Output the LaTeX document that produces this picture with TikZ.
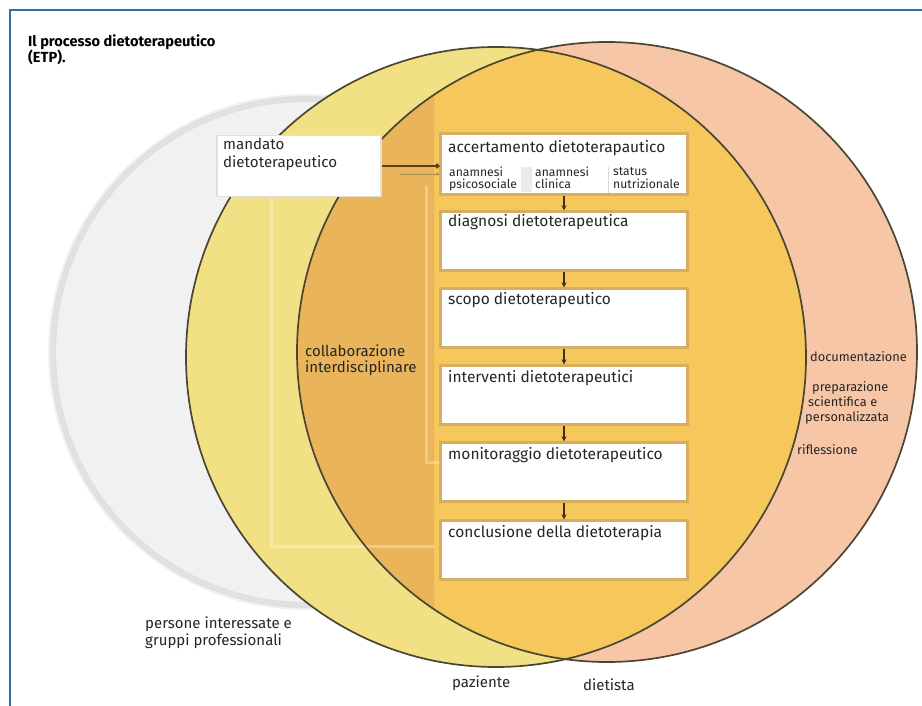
\documentclass[tikz,border=0pt]{standalone}
\usepackage{fontspec}
\setmainfont{Fira Sans}
\usetikzlibrary{arrows.meta}

\definecolor{frameblue}{HTML}{2F6DA6}
\definecolor{ink}{HTML}{262626}
\definecolor{grayfill}{HTML}{F1F1F1}
\definecolor{grayring}{HTML}{E0E0E0}
\definecolor{yellowfill}{HTML}{F2E084}
\definecolor{pinkfill}{HTML}{F6C6A7}
\definecolor{lenslight}{HTML}{F6C75B}
\definecolor{lensdark}{HTML}{EAB45B}
\definecolor{rimdark}{HTML}{4A4632}
\definecolor{boxrim}{HTML}{D6AE62}
\definecolor{arrowdark}{HTML}{3E2E17}
\definecolor{linkbrown}{HTML}{5A3E1A}

\tikzset{
  outline/.style={draw=rimdark, line width=1.7pt},
  stage/.style={draw=boxrim, line width=2.4pt, fill=white,
    minimum width=247pt, minimum height=59pt, inner sep=0pt},
  stagelabel/.style={anchor=base west, inner sep=0pt, text=ink,
    font=\fontsize{15.5}{17}\selectfont},
  mandlabel/.style={anchor=base west, inner sep=0pt, text=ink,
    font=\fontsize{15.1}{17}\selectfont},
  sublabel/.style={anchor=base west, inner sep=0pt, text=ink,
    font=\fontsize{12.2}{13}\selectfont},
  caption/.style={anchor=base west, inner sep=0pt, text=ink,
    font=\fontsize{15}{17}\selectfont},
  sidelabel/.style={anchor=base west, inner sep=0pt, text=ink,
    font=\fontsize{12.8}{14}\selectfont},
  titlelabel/.style={anchor=base west, inner sep=0pt, text=black,
    font=\fontsize{14.6}{16}\selectfont\bfseries},
  flow/.style={draw=arrowdark, line width=1.4pt, -{Stealth[length=5pt,width=5pt]}},
}

\begin{document}
\begin{tikzpicture}[x=1pt,y=-1pt]
\useasboundingbox (0,0) rectangle (922,706);
\fill[white] (0,0) rectangle (922,706);

% page frame
\draw[frameblue, line width=1.6pt] (10,706) -- (10,10) -- (922,10);

% circle centres
\coordinate (cgray) at (306,352);
\coordinate (cpat) at (496,357);
\coordinate (cdiet) at (607,352);

% stakeholders circle with a soft rim
\fill[grayfill] (cgray) circle[radius=258pt];
\draw[grayring, line width=6pt] (cgray) circle[radius=253pt];
\draw[gray!22, line width=1.5pt] (cgray) circle[radius=253pt];

% patient and dietitian circles
\fill[yellowfill] (cpat) circle[radius=310pt];
\fill[pinkfill] (cdiet) circle[radius=310pt];
\begin{scope}
  \clip (cpat) circle[radius=310pt];
  \fill[lenslight] (cdiet) circle[radius=310pt];
  \clip (0,0) rectangle (434,706);
  \fill[lensdark] (cdiet) circle[radius=310pt];
\end{scope}

% faint background frame
\coordinate (g1) at (271,198);
\coordinate (g2) at (271,546);
\coordinate (g3) at (434,546);
\coordinate (g4) at (426,186);
\coordinate (g5) at (426,462);
\coordinate (g6) at (440,462);
\draw[draw=white, line width=3pt, opacity=0.3] (g1) -- (g2) -- (g3);
\draw[draw=white, line width=3pt, opacity=0.3] (g4) -- (g5) -- (g6);

% circle outlines
\draw[outline] (cpat) circle[radius=310pt];
\draw[outline] (cdiet) circle[radius=310pt];

% process stages
\node[stage, minimum height=61pt] (accert) at (564,164) {};
\node[stage] (diag) at (564,241) {};
\node[stage] (scopo) at (564,318) {};
\node[stage] (interv) at (564,395) {};
\node[stage] (monit) at (564,472) {};
\node[stage] (concl) at (564,550) {};

% dividers inside the assessment box
\fill[gray!16] (521,167) rectangle (532,192);
\draw[gray!30, line width=0.8pt] (608,167) -- (608,193);

\node[stagelabel] (taccert) at (448,153) {accertamento dietoterapautico};
\node[sublabel] (ta1) at (449,177) {anamnesi};
\node[sublabel] (ta2) at (449,189) {psicosociale};
\node[sublabel] (tb1) at (535,177) {anamnesi};
\node[sublabel] (tb2) at (535,189) {clinica};
\node[sublabel] (tc1) at (613,176) {status};
\node[sublabel] (tc2) at (613,189) {nutrizionale};
\node[stagelabel] (tdiag) at (448,227) {diagnosi dietoterapeutica};
\node[stagelabel] (tscopo) at (448,305) {scopo dietoterapeutico};
\node[stagelabel] (tinterv) at (448,382) {interventi dietoterapeutici};
\node[stagelabel] (tmonit) at (448,459) {monitoraggio dietoterapeutico};
\node[stagelabel] (tconcl) at (448,537) {conclusione della dietoterapia};

\draw[flow] (accert.south) -- (diag.north);
\draw[flow] (diag.south) -- (scopo.north);
\draw[flow] (scopo.south) -- (interv.north);
\draw[flow] (interv.south) -- (monit.north);
\draw[flow] (monit.south) -- (concl.north);

% mandate box and its link to the assessment
\node[draw=gray!25, line width=1.5pt, fill=white, minimum width=164pt,
  minimum height=61pt, inner sep=0pt] (mandato) at (299,166) {};
\node[mandlabel] (tmand1) at (223,150) {mandato};
\node[mandlabel] (tmand2) at (223,168) {dietoterapeutico};
\draw[linkbrown, line width=2.2pt, -{Circle[length=4.5pt]}]
  (mandato.east) -- (mandato.east -| accert.west);
\coordinate (thinstart) at (400,174);
\draw[boxrim!80!black, line width=0.7pt, -{Circle[length=3pt]}]
  (thinstart) -- (thinstart -| accert.west);

% captions
\node[titlelabel] (title1) at (28,47) {Il processo dietoterapeutico};
\node[titlelabel] (title2) at (28,63) {(ETP).};
\node[caption] (collab1) at (305,356) {collaborazione};
\node[caption] (collab2) at (305,372) {interdisciplinare};
\node[caption] (pers1) at (145,628) {persone interessate e};
\node[caption] (pers2) at (145,645) {gruppi professionali};
\node[caption] (paz) at (452,687) {paziente};
\node[caption] (diet) at (583,690) {dietista};
\node[sidelabel] (doc) at (810,361) {documentazione};
\node[sidelabel] (prep1) at (812,391) {preparazione};
\node[sidelabel] (prep2) at (808,406) {scientifica e};
\node[sidelabel] (prep3) at (805,421) {personalizzata};
\node[sidelabel] (rifl) at (797,454) {riflessione};
\end{tikzpicture}
\end{document}
